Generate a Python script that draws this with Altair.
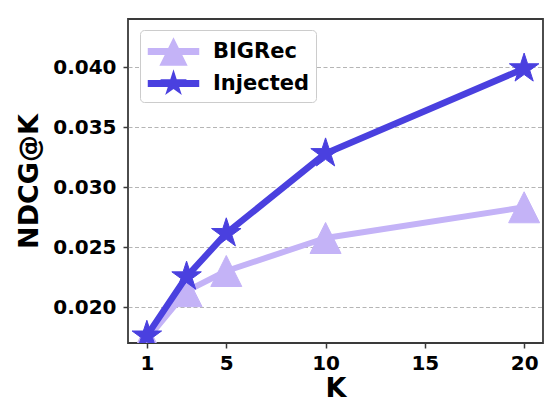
import altair as alt
import pandas as pd

K = [1, 3, 5, 10, 20]
bigrec = [0.0173, 0.02132, 0.0230, 0.02575, 0.02831]
injected = [0.0176, 0.02253, 0.02614, 0.0328, 0.03987]
series_names = ["BIGRec", "Injected"]
colors = ["#c4b3f7", "#4a40df"]
x_ticks = [1, 5, 10, 15, 20]
y_ticks = [0.020, 0.025, 0.030, 0.035, 0.040]

df = pd.DataFrame({
    "K": K * 2,
    "val": bigrec + injected,
    "series": [series_names[0]] * len(K) + [series_names[1]] * len(K),
})

TRI = "M0,-1L1,1L-1,1Z"
STAR = ("M0,-1L0.2245,-0.309L0.9511,-0.309L0.3633,0.118L0.5878,0.809L0,0.382"
        "L-0.5878,0.809L-0.3633,0.118L-0.9511,-0.309L-0.2245,-0.309Z")
BAR = "M-1.82,-0.25L1.82,-0.25L1.82,0.25L-1.82,0.25Z"
shapes = [TRI, STAR]
legend_shapes = [BAR + TRI, BAR + STAR]

FONT = "DejaVu Sans"

xenc = alt.X("K:Q", scale=alt.Scale(domain=[0.05, 20.95], nice=False, zero=False),
             axis=alt.Axis(values=x_ticks, grid=False, title="K", format="d"))
yenc = alt.Y("val:Q", scale=alt.Scale(domain=[0.0170, 0.0440], nice=False, zero=False),
             axis=alt.Axis(values=y_ticks, format=".3f", title="NDCG@K",
                           grid=True, gridDash=[4, 2.5], gridColor="#b5b5b5",
                           gridWidth=1, titlePadding=9))

layers = []
for name, c, shp, sw in zip(series_names, colors, shapes, [6, 6.5]):
    sub = alt.Chart(df).transform_filter(alt.datum.series == name)
    layers.append(sub.mark_line(color=c, strokeWidth=sw, strokeJoin="round", clip=True)
                  .encode(x=xenc, y=yenc))
    layers.append(sub.mark_point(shape=shp, filled=True, fill=c, stroke=c, strokeWidth=1,
                                 size=961, opacity=1, clip=True)
                  .encode(x=xenc, y=yenc))

legend_layer = alt.Chart(df).mark_point(filled=True, opacity=0, clip=True).encode(
    x=xenc, y=yenc,
    shape=alt.Shape("series:N", scale=alt.Scale(domain=series_names, range=legend_shapes),
                    legend=alt.Legend(title=None)),
    fill=alt.Fill("series:N", scale=alt.Scale(domain=series_names, range=colors),
                  legend=alt.Legend(title=None)),
)
layers.append(legend_layer)

chart = alt.layer(*layers).properties(
    width=415, height=324,
    autosize=alt.AutoSizeParams(type="none"),
    padding={"left": 128, "top": 19, "right": 1, "bottom": 62},
).configure_view(
    stroke="#3a3a3a", strokeWidth=1.8
).configure_axis(
    domain=False,
    labelFont=FONT, labelFontWeight="bold", labelFontSize=20, labelColor="#000",
    titleFont=FONT, titleFontWeight="bold", titleFontSize=27, titleColor="#000",
    tickColor="#3a3a3a", tickWidth=1.5, tickSize=5,
).configure_axisX(
    labelPadding=5, titlePadding=2,
).configure_axisY(
    labelPadding=7,
).configure_legend(
    orient="none", legendX=12, legendY=11,
    fillColor="white", strokeColor="#cccccc", cornerRadius=4, padding=7,
    symbolSize=800, symbolStrokeWidth=0, symbolOpacity=1, symbolOffset=12,
    labelFont=FONT, labelFontWeight="bold", labelFontSize=21, labelColor="#000",
    labelOffset=25, rowPadding=3,
)

chart.save("out.html", embed_options={"renderer": "svg", "actions": False})
